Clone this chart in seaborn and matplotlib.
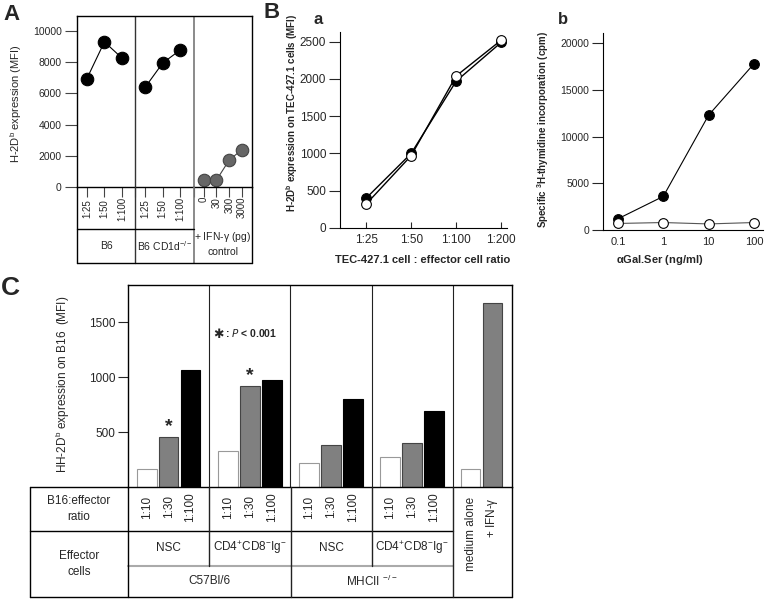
import pandas as pd
import matplotlib
matplotlib.use('Agg')
import matplotlib.pyplot as plt
import matplotlib.transforms as mtransforms
from matplotlib.lines import Line2D
import seaborn as sns

# ---- panel A: H-2Db expression (MFI)
a_ratios = ['1:25', '1:50', '1:100']
a_b6 = [6950, 9300, 8270]
a_cd1d = [6400, 7950, 8780]
a_ifn_doses = ['0', '30', '300', '3000']
a_ifn = [420, 440, 1730, 2400]
a_groups = ['B6', 'B6 CD1d$^{-/-}$']

# ---- panel B a: TEC-427.1 cells
ba_ratios = ['1:25', '1:50', '1:100', '1:200']
ba_filled = [400, 1000, 1970, 2490]
ba_open = [320, 970, 2040, 2520]

# ---- panel B b: 3H-thymidine incorporation
bb_conc = [0.1, 1, 10, 100]
bb_conc_labels = ['0.1', '1', '10', '100']
bb_filled = [1200, 3600, 12300, 17800]
bb_open = [700, 800, 650, 800]

# ---- panel C: B16 cells
c_ratios = ['1:10', '1:30', '1:100']
c_b6_nsc = [160, 455, 1070]
c_b6_cd4 = [330, 920, 975]
c_mhc_nsc = [215, 385, 800]
c_mhc_cd4 = [275, 405, 690]
c_effectors = ['NSC', 'CD4$^{+}$CD8$^{-}$Ig$^{-}$', 'NSC', 'CD4$^{+}$CD8$^{-}$Ig$^{-}$']
c_strains = ['C57Bl/6', 'MHCII $^{-/-}$']
c_controls = ['medium alone', '+ IFN-$\\gamma$']
c_control_vals = [160, 1680]

W, H = 767, 601
sns.set_style('ticks')
plt.rcParams['font.family'] = ['Liberation Sans', 'DejaVu Sans']
plt.rcParams['mathtext.default'] = 'regular'

fig = plt.figure(figsize=(W / 100, H / 100), dpi=100)


def fx(x):
    return x / W


def fy(y):
    return 1 - y / H


def box(l, t, r, b):
    return [fx(l), fy(b), (r - l) / W, (b - t) / H]


def line(x0, y0, x1, y1, color='black', lw=1.0):
    fig.add_artist(Line2D([fx(x0), fx(x1)], [fy(y0), fy(y1)], transform=fig.transFigure,
                          color=color, lw=lw))


def label(x, y, s, **kw):
    fig.text(fx(x), fy(y), s, ha=kw.pop('ha', 'center'), va=kw.pop('va', 'center'), **kw)


# ================= A =================
axA = fig.add_axes(box(77, 16, 252, 187))
blendA = mtransforms.blended_transform_factory(axA.transData, fig.transFigure)
a_sets = [(a_b6, 'black', 'black', 0.17, 0.3), (a_cd1d, 'black', 'black', 0.17, 0.3),
          (a_ifn, '#666666', '#444444', 0.17, 0.22)]
major = []
for g, (vals, fc, ec, off, step) in enumerate(a_sets):
    pos = [g + off + step * i for i in range(len(vals))]
    major += pos
    sns.lineplot(x=pos, y=vals, ax=axA, color=ec, lw=0.8, marker='o', markersize=9,
                 markerfacecolor=fc, markeredgecolor=ec, markeredgewidth=0.8)
    labs = a_ratios if g < 2 else a_ifn_doses
    for p, lab in zip(pos, labs):
        if g < 2:
            axA.text(p, fy(209), lab, rotation=90, ha='center', va='center', fontsize=7,
                     transform=blendA)
        else:
            axA.text(p, fy(197), lab, rotation=90, ha='center', va='top', fontsize=7,
                     transform=blendA)
axA.set_xlim(0, 3)
axA.set_ylim(0, 10960)
axA.set_yticks(range(0, 10001, 2000))
axA.set_xticks(major)
axA.set_xticklabels([])
axA.set_xticks([1, 2], minor=True)
axA.tick_params(axis='y', length=9, width=0.8, labelsize=7.5, pad=2, color='#444')
axA.tick_params(axis='x', which='both', length=7, width=0.8, color='#444')
for s in axA.spines.values():
    s.set_linewidth(1)
    s.set_color('black')
axA.axvline(1, color='#333', lw=1)
axA.axvline(2, color='#777', lw=1.2)
axA.set_xlabel('')
for g, name in enumerate(a_groups):
    axA.text(g + 0.5, fy(246), name, ha='center', va='center', fontsize=7.5, transform=blendA)
axA.text(2.5, fy(237), '+ IFN-$\\gamma$ (pg)', ha='center', va='center', fontsize=7.5, transform=blendA)
axA.text(2.5, fy(252), 'control', ha='center', va='center', fontsize=7.5, transform=blendA)
line(77, 187, 77, 263)
line(135, 187, 135, 263, '#333')
line(194, 187, 194, 263, '#777', 1.2)
line(252, 187, 252, 263)
line(77, 229, 194, 229)
line(77, 263, 252, 263)
label(16, 104, 'H-2D$^{b}$ expression (MFI)', rotation=90, fontsize=8)
label(11, 14, 'A', fontsize=16, fontweight='bold')

# ================= B a =================
axBa = fig.add_axes(box(340, 32, 507, 228))
sns.lineplot(x=range(4), y=ba_filled, ax=axBa, color='black', lw=1, marker='o', markersize=7,
             markerfacecolor='black', markeredgecolor='black', markeredgewidth=0.8)
sns.lineplot(x=range(4), y=ba_open, ax=axBa, color='black', lw=1, marker='o', markersize=7,
             markerfacecolor='white', markeredgecolor='black', markeredgewidth=0.8)
axBa.set_xlim(-0.58, 3.13)
axBa.set_ylim(0, 2630)
axBa.set_xticks(range(4))
axBa.set_xticklabels(ba_ratios)
axBa.set_yticks(range(0, 2501, 500))
axBa.tick_params(axis='x', direction='in', length=4, width=0.8, labelsize=8.5, pad=4)
axBa.tick_params(axis='y', length=8, width=0.8, labelsize=8.5, pad=2)
sns.despine(ax=axBa)
for s in axBa.spines.values():
    s.set_color('black')
label(292, 113, 'H-2D$^{b}$ expression on TEC-427.1 cells (MFI)', rotation=90, fontsize=7,
      fontweight='bold')
label(423, 260, 'TEC-427.1 cell : effector cell ratio', fontsize=8, fontweight='bold')
label(318, 20, 'a', fontsize=12, fontweight='bold')
label(272, 12, 'B', fontsize=16, fontweight='bold')

# ================= B b =================
axBb = fig.add_axes(box(603, 33, 763, 230))
sns.lineplot(x=bb_conc, y=bb_filled, ax=axBb, color='black', lw=0.8, marker='o', markersize=7,
             markerfacecolor='black', markeredgecolor='black', markeredgewidth=0.8)
sns.lineplot(x=bb_conc, y=bb_open, ax=axBb, color='#555', lw=0.8, marker='o', markersize=7,
             markerfacecolor='white', markeredgecolor='black', markeredgewidth=0.8)
axBb.set_xscale('log')
axBb.set_xlim(10 ** -1.33, 10 ** 2.2)
axBb.set_ylim(0, 21100)
axBb.set_xticks(bb_conc)
axBb.set_xticklabels(bb_conc_labels)
axBb.minorticks_off()
axBb.set_yticks(range(0, 20001, 5000))
axBb.tick_params(axis='x', length=0, labelsize=8, pad=5)
axBb.tick_params(axis='y', length=8, width=0.8, labelsize=7.5, pad=2)
sns.despine(ax=axBb)
for s in axBb.spines.values():
    s.set_color('black')
label(543, 129, 'Specific $^{3}$H-thymidine incorporation (cpm)', rotation=90, fontsize=7,
      fontweight='bold')
label(660, 260, '$\\alpha$Gal.Ser (ng/ml)', fontsize=8, fontweight='bold')
label(563, 20, 'b', fontsize=12, fontweight='bold')

# ================= C =================
axC = fig.add_axes(box(128, 285, 512, 487))
blendC = mtransforms.blended_transform_factory(axC.transData, fig.transFigure)
G = 3.7
shades = ['white', 'grey', 'black']
rows = []
for g, vals in enumerate([c_b6_nsc, c_b6_cd4, c_mhc_nsc, c_mhc_cd4]):
    for k, v in enumerate(vals):
        rows.append({'pos': g * G + 0.85 + k, 'val': v, 'shade': shades[k]})
for k, v in enumerate(c_control_vals):
    rows.append({'pos': 4 * G + 0.81 + k, 'val': v, 'shade': shades[k]})
dfC = pd.DataFrame(rows)
sns.barplot(data=dfC, x='pos', y='val', hue='shade', ax=axC, native_scale=True, dodge=False,
            palette={'white': 'white', 'grey': '#808080', 'black': 'black'},
            width=0.9, errorbar=None, legend=False, linewidth=0.8)
edge = {(1.0, 1.0, 1.0): '#999999', (0.0, 0.0, 0.0): 'black'}
for p in axC.patches:
    p.set_edgecolor(edge.get(tuple(round(c, 2) for c in p.get_facecolor()[:3]), '#444444'))
axC.set_xlim(0, 17.5)
axC.set_ylim(0, 1840)
axC.set_yticks([500, 1000, 1500])
axC.set_xticks([])
axC.set_xlabel('')
axC.set_ylabel('')
axC.tick_params(axis='y', length=7, width=0.8, labelsize=8.5, pad=2)
for s in axC.spines.values():
    s.set_linewidth(1)
    s.set_color('black')
for g in range(1, 5):
    axC.axvline(g * G, color='#222', lw=0.8)

# ratio labels, effector and strain labels
for g in range(4):
    for k, lab in enumerate(c_ratios):
        axC.text(g * G + 0.85 + k, fy(507), lab, rotation=90, ha='center', va='center',
                 fontsize=8.5, transform=blendC)
    axC.text(g * G + G / 2, fy(548), c_effectors[g], ha='center', va='center', fontsize=8.5,
             transform=blendC)
for j, name in enumerate(c_strains):
    axC.text(2 * G * j + G, fy(581), name, ha='center', va='center', fontsize=8.5,
             transform=blendC)
for k, name in enumerate(c_controls):
    axC.text(4 * G + 0.81 + k, fy(497), name, rotation=90, ha='center', va='top', fontsize=8.5,
             transform=blendC)

# significance marks
for g in (0, 1):
    y = [c_b6_nsc, c_b6_cd4][g][1]
    axC.text(g * G + 1.85, y + 15, '*', ha='center', va='bottom', fontsize=14, fontweight='bold')
label(213, 335, '\u2731', ha='left', fontsize=9, family='DejaVu Sans')
label(225, 333, ': $\\it{P}$ < 0.001', ha='left', fontsize=7.5, fontweight='bold')

# table grid
line(30, 487, 128, 487)
line(30, 531, 453, 531)
line(128, 566, 453, 566, '#aaaaaa', 1.5)
line(30, 597, 512, 597)
line(30, 487, 30, 597)
line(128, 487, 128, 597)
line(209, 487, 209, 566, '#222')
line(372, 487, 372, 566, '#222')
line(291, 487, 291, 597, '#222')
line(453, 487, 453, 597, '#222')
line(512, 487, 512, 597)
label(79, 509, 'B16:effector\nratio', fontsize=8.5, linespacing=1.4)
label(79, 564, 'Effector\ncells', fontsize=8.5, linespacing=1.4)
label(63, 384, 'HH-2D$^{b}$ expression on B16  (MFI)', rotation=90, fontsize=8.5)
label(10, 288, 'C', fontsize=19, fontweight='bold')

fig.savefig('out.png', dpi=100)
